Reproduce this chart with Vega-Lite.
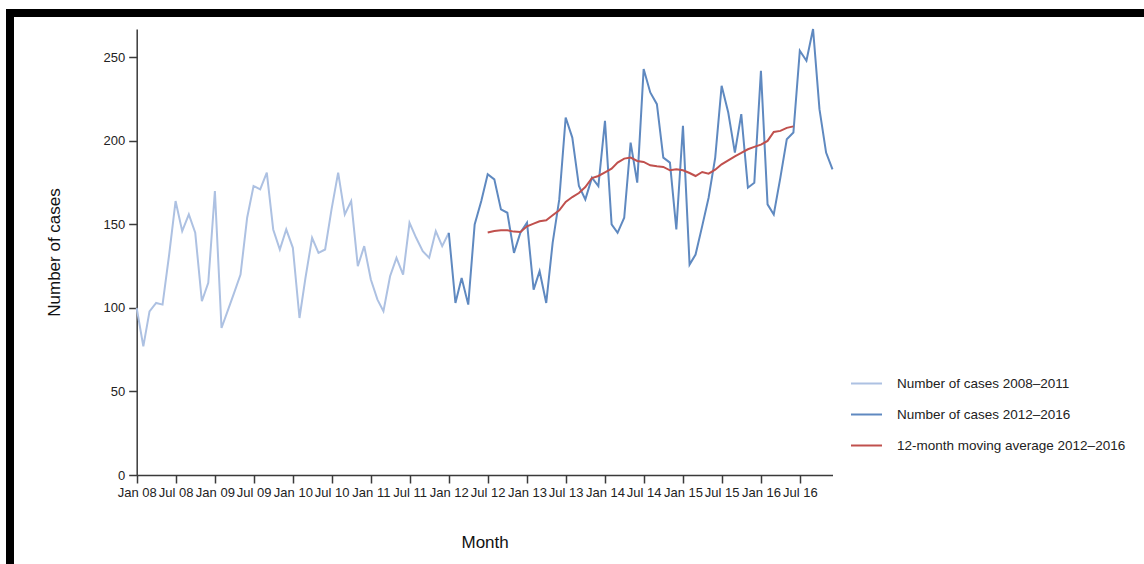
{
  "$schema": "https://vega.github.io/schema/vega-lite/v6.json",
  "autosize": "none",
  "padding": {"left": 10, "top": 13, "right": 0, "bottom": 0},
  "width": 1134,
  "height": 551,
  "background": "white",
  "config": {
    "font": "Liberation Sans",
    "view": {"stroke": "black", "strokeWidth": 8, "strokeDash": [1134, 1685, 551]},
    "axis": {
      "grid": false,
      "domainColor": "#3a3a3a",
      "domainWidth": 1.5,
      "tickColor": "#3a3a3a",
      "tickWidth": 1.5,
      "tickSize": 8,
      "labelFont": "Liberation Sans",
      "labelFontSize": 13,
      "labelColor": "#222222",
      "titleFont": "Liberation Sans",
      "titleFontSize": 17,
      "titleFontWeight": "normal",
      "titleColor": "#111111"
    },
    "legend": {
      "labelFont": "Liberation Sans",
      "labelFontSize": 13.5,
      "labelColor": "#222222",
      "labelLimit": 0
    }
  },
  "datasets": {
    "light": [
      {"date": "2008-01-01", "value": 100}, {"date": "2008-02-01", "value": 77}, {"date": "2008-03-01", "value": 98},
      {"date": "2008-04-01", "value": 103}, {"date": "2008-05-01", "value": 102}, {"date": "2008-06-01", "value": 132},
      {"date": "2008-07-01", "value": 164}, {"date": "2008-08-01", "value": 146}, {"date": "2008-09-01", "value": 156},
      {"date": "2008-10-01", "value": 145}, {"date": "2008-11-01", "value": 104}, {"date": "2008-12-01", "value": 115},
      {"date": "2009-01-01", "value": 170}, {"date": "2009-02-01", "value": 88}, {"date": "2009-03-01", "value": 98},
      {"date": "2009-04-01", "value": 109}, {"date": "2009-05-01", "value": 120}, {"date": "2009-06-01", "value": 154},
      {"date": "2009-07-01", "value": 173}, {"date": "2009-08-01", "value": 171}, {"date": "2009-09-01", "value": 181},
      {"date": "2009-10-01", "value": 147}, {"date": "2009-11-01", "value": 135}, {"date": "2009-12-01", "value": 147},
      {"date": "2010-01-01", "value": 136}, {"date": "2010-02-01", "value": 94}, {"date": "2010-03-01", "value": 118},
      {"date": "2010-04-01", "value": 142}, {"date": "2010-05-01", "value": 133}, {"date": "2010-06-01", "value": 135},
      {"date": "2010-07-01", "value": 159}, {"date": "2010-08-01", "value": 181}, {"date": "2010-09-01", "value": 156},
      {"date": "2010-10-01", "value": 164}, {"date": "2010-11-01", "value": 125}, {"date": "2010-12-01", "value": 137},
      {"date": "2011-01-01", "value": 117}, {"date": "2011-02-01", "value": 105}, {"date": "2011-03-01", "value": 98},
      {"date": "2011-04-01", "value": 119}, {"date": "2011-05-01", "value": 130}, {"date": "2011-06-01", "value": 120},
      {"date": "2011-07-01", "value": 151}, {"date": "2011-08-01", "value": 142}, {"date": "2011-09-01", "value": 134},
      {"date": "2011-10-01", "value": 130}, {"date": "2011-11-01", "value": 146}, {"date": "2011-12-01", "value": 137},
      {"date": "2012-01-01", "value": 145}
    ],
    "dark": [
      {"date": "2012-01-01", "value": 145}, {"date": "2012-02-01", "value": 103}, {"date": "2012-03-01", "value": 118},
      {"date": "2012-04-01", "value": 102}, {"date": "2012-05-01", "value": 150}, {"date": "2012-06-01", "value": 164},
      {"date": "2012-07-01", "value": 180}, {"date": "2012-08-01", "value": 177}, {"date": "2012-09-01", "value": 159},
      {"date": "2012-10-01", "value": 157}, {"date": "2012-11-01", "value": 133}, {"date": "2012-12-01", "value": 145},
      {"date": "2013-01-01", "value": 151}, {"date": "2013-02-01", "value": 111}, {"date": "2013-03-01", "value": 122},
      {"date": "2013-04-01", "value": 103}, {"date": "2013-05-01", "value": 139}, {"date": "2013-06-01", "value": 165},
      {"date": "2013-07-01", "value": 214}, {"date": "2013-08-01", "value": 202}, {"date": "2013-09-01", "value": 173},
      {"date": "2013-10-01", "value": 165}, {"date": "2013-11-01", "value": 178}, {"date": "2013-12-01", "value": 173},
      {"date": "2014-01-01", "value": 212}, {"date": "2014-02-01", "value": 150}, {"date": "2014-03-01", "value": 145},
      {"date": "2014-04-01", "value": 154}, {"date": "2014-05-01", "value": 199}, {"date": "2014-06-01", "value": 175},
      {"date": "2014-07-01", "value": 243}, {"date": "2014-08-01", "value": 229}, {"date": "2014-09-01", "value": 222},
      {"date": "2014-10-01", "value": 190}, {"date": "2014-11-01", "value": 187}, {"date": "2014-12-01", "value": 147},
      {"date": "2015-01-01", "value": 209}, {"date": "2015-02-01", "value": 126}, {"date": "2015-03-01", "value": 132},
      {"date": "2015-04-01", "value": 149}, {"date": "2015-05-01", "value": 166}, {"date": "2015-06-01", "value": 190},
      {"date": "2015-07-01", "value": 233}, {"date": "2015-08-01", "value": 217}, {"date": "2015-09-01", "value": 193},
      {"date": "2015-10-01", "value": 216}, {"date": "2015-11-01", "value": 172}, {"date": "2015-12-01", "value": 175},
      {"date": "2016-01-01", "value": 242}, {"date": "2016-02-01", "value": 162}, {"date": "2016-03-01", "value": 156},
      {"date": "2016-04-01", "value": 178}, {"date": "2016-05-01", "value": 201}, {"date": "2016-06-01", "value": 205},
      {"date": "2016-07-01", "value": 254}, {"date": "2016-08-01", "value": 248}, {"date": "2016-09-01", "value": 267},
      {"date": "2016-10-01", "value": 219}, {"date": "2016-11-01", "value": 193}, {"date": "2016-12-01", "value": 183}
    ],
    "avg": [
      {"date": "2012-07-01", "value": 145.2}, {"date": "2012-08-01", "value": 146.1}, {"date": "2012-09-01", "value": 146.5},
      {"date": "2012-10-01", "value": 146.5}, {"date": "2012-11-01", "value": 145.7}, {"date": "2012-12-01", "value": 145.5},
      {"date": "2013-01-01", "value": 148.9}, {"date": "2013-02-01", "value": 150.5}, {"date": "2013-03-01", "value": 151.9},
      {"date": "2013-04-01", "value": 152.5}, {"date": "2013-05-01", "value": 155.5}, {"date": "2013-06-01", "value": 158.5},
      {"date": "2013-07-01", "value": 163.5}, {"date": "2013-08-01", "value": 166.4}, {"date": "2013-09-01", "value": 168.8},
      {"date": "2013-10-01", "value": 172.4}, {"date": "2013-11-01", "value": 177.8}, {"date": "2013-12-01", "value": 179.0},
      {"date": "2014-01-01", "value": 181.2}, {"date": "2014-02-01", "value": 183.4}, {"date": "2014-03-01", "value": 187.0},
      {"date": "2014-04-01", "value": 189.4}, {"date": "2014-05-01", "value": 190.0}, {"date": "2014-06-01", "value": 188.0},
      {"date": "2014-07-01", "value": 187.4}, {"date": "2014-08-01", "value": 185.4}, {"date": "2014-09-01", "value": 184.8},
      {"date": "2014-10-01", "value": 184.4}, {"date": "2014-11-01", "value": 182.4}, {"date": "2014-12-01", "value": 183.0},
      {"date": "2015-01-01", "value": 182.4}, {"date": "2015-02-01", "value": 180.8}, {"date": "2015-03-01", "value": 179.0},
      {"date": "2015-04-01", "value": 181.4}, {"date": "2015-05-01", "value": 180.4}, {"date": "2015-06-01", "value": 182.8},
      {"date": "2015-07-01", "value": 186.0}, {"date": "2015-08-01", "value": 188.4}, {"date": "2015-09-01", "value": 190.8},
      {"date": "2015-10-01", "value": 192.8}, {"date": "2015-11-01", "value": 195.0}, {"date": "2015-12-01", "value": 196.4},
      {"date": "2016-01-01", "value": 197.8}, {"date": "2016-02-01", "value": 200.0}, {"date": "2016-03-01", "value": 205.4},
      {"date": "2016-04-01", "value": 206.0}, {"date": "2016-05-01", "value": 207.8}, {"date": "2016-06-01", "value": 208.7}
    ]
  },
  "encoding": {
    "x": {
      "field": "date",
      "type": "temporal",
      "scale": {"type": "utc", "nice": false, "range": [126.7, 822.5]},
      "axis": {
        "title": "Month",
        "format": "%b %y",
        "tickCount": {"interval": "month", "step": 6},
        "offset": -89,
        "labelPadding": 3,
        "titlePadding": 35,
        "labelOverlap": false,
        "labelFlush": false
      }
    },
    "y": {
      "field": "value",
      "type": "quantitative",
      "scale": {"domain": [0, 267], "nice": false, "range": [462, 16]},
      "axis": {
        "title": "Number of cases",
        "values": [0, 50, 100, 150, 200, 250],
        "offset": -126.7,
        "labelPadding": 4,
        "titlePadding": 40
      }
    }
  },
  "layer": [
    {
      "data": {"name": "light"},
      "mark": {"type": "line", "strokeWidth": 2},
      "encoding": {
        "color": {
          "datum": "Number of cases 2008–2011",
          "type": "nominal",
          "scale": {
            "domain": ["Number of cases 2008–2011", "Number of cases 2012–2016", "12-month moving average 2012–2016"],
            "range": ["#adc1e2", "#5f89c0", "#c0504d"]
          },
          "legend": {
            "orient": "none",
            "legendX": 840,
            "legendY": 354,
            "title": null,
            "padding": 0,
            "symbolType": "stroke",
            "symbolSize": 961,
            "symbolStrokeWidth": 2,
            "labelOffset": 14,
            "labelLimit": 0,
            "rowPadding": 8
          }
        }
      }
    },
    {
      "data": {"name": "dark"},
      "mark": {"type": "line", "strokeWidth": 2},
      "encoding": {"color": {"datum": "Number of cases 2012–2016", "type": "nominal"}}
    },
    {
      "data": {"name": "avg"},
      "mark": {"type": "line", "strokeWidth": 2},
      "encoding": {"color": {"datum": "12-month moving average 2012–2016", "type": "nominal"}}
    }
  ]
}
